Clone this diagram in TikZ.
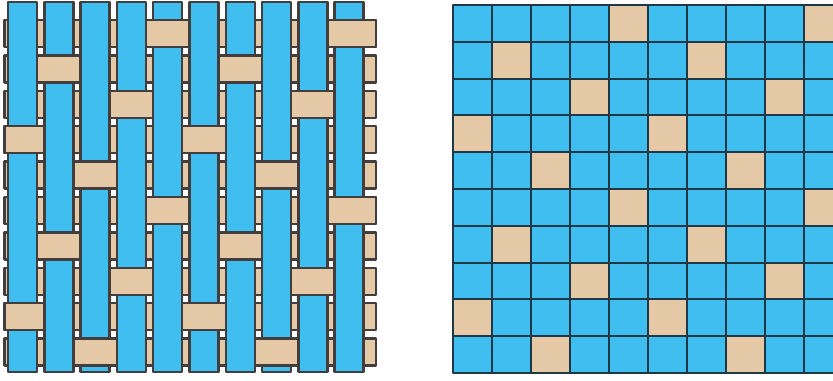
\documentclass[tikz,border=0pt]{standalone}
\definecolor{warpblue}{RGB}{64,190,240}
\definecolor{wefttan}{RGB}{229,201,166}
\definecolor{weaveline}{RGB}{66,62,62}
\definecolor{gridline}{RGB}{30,56,70}
\tikzset{
  every picture/.style={line join=round},
  warp/.style={fill=warpblue, draw=weaveline, line width=1.4pt},
  weft/.style={fill=wefttan, draw=weaveline, line width=1.4pt},
  cell/.style={draw=gridline, line width=1.2pt},
}
\begin{document}
\begin{tikzpicture}[x=0.02cm,y=-0.02cm]
\useasboundingbox (0,0) rectangle (833,380);
% weave: wefts underneath, warps on top, then the weft floats
\foreach \r in {0,...,9}
  \draw[weft] (4.5,20+35.4*\r) rectangle (376,47+35.4*\r);
\foreach \c in {0,...,9}
  \draw[warp] (8+36.3*\c,2) rectangle (37+36.3*\c,372);
\foreach \r in {0,...,9}{
  \pgfmathtruncatemacro\k{mod(4+2*\r,5)}
  \foreach \c in {0,5}{
    \pgfmathsetmacro\xa{max(4.5,8+36.3*(\k+\c)-7.3)}
    \pgfmathsetmacro\xb{ifthenelse(\k+\c==9,376,37+36.3*(\k+\c)+7.3)}
    \draw[weft] (\xa,20+35.4*\r) rectangle (\xb,47+35.4*\r);
  }
}
% point paper: same satin, one square per crossing
\begin{scope}
\clip (0,0) rectangle (833,380);
\foreach \r in {0,...,9}
  \foreach \c in {0,...,10}{
    \pgfmathtruncatemacro\t{mod(\c+46-2*\r,5)}
    \ifnum\t=0 \def\fc{wefttan}\else\def\fc{warpblue}\fi
    \draw[cell,fill=\fc] (453+39*\c,5+36.8*\r) rectangle +(39,36.8);
  }
\end{scope}
\end{tikzpicture}
\end{document}
